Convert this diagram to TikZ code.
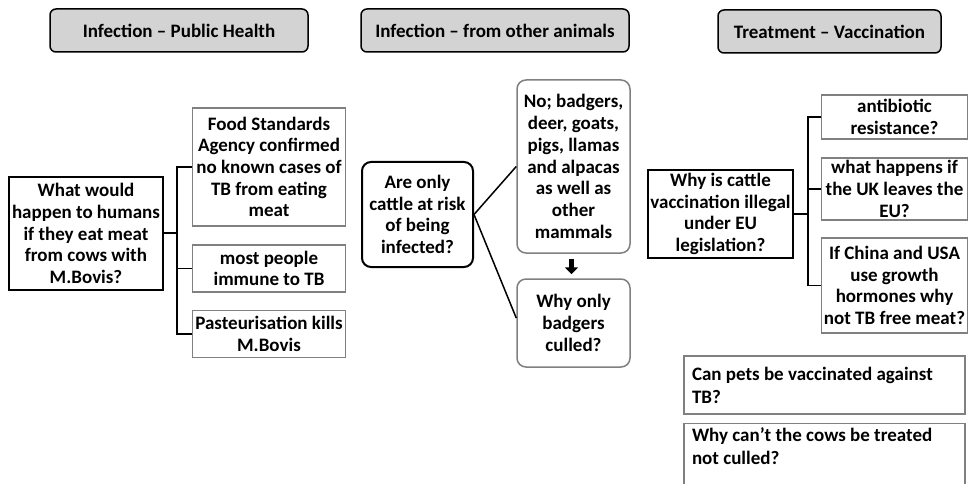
\documentclass[tikz,border=0pt]{standalone}
\usepackage{fontspec}
\setmainfont{Carlito}
\usepackage{tikz}
\usetikzlibrary{arrows.meta,calc}
\definecolor{hdrgray}{HTML}{D3D3D3}
\definecolor{boxgray}{HTML}{808080}
\begin{document}
\begin{tikzpicture}[x=1pt,y=-1pt,
  every node/.style={font=\bfseries\fontsize{19}{21.7}\selectfont,inner sep=0pt,align=center},
  hdr/.style={draw=black,line width=1.5pt,fill=hdrgray,rounded corners=6pt},
  qsharp/.style={draw=black,line width=2pt},
  qround/.style={draw=black,line width=2pt,rounded corners=9pt},
  ans/.style={draw=boxgray,line width=1.5pt},
  ansround/.style={draw=boxgray,line width=1.5pt,rounded corners=9pt},
  note/.style={draw=boxgray,line width=1.2pt,align=left,inner xsep=8pt,
    font=\bfseries\fontsize{19}{23}\selectfont},
  link/.style={draw=black,line width=1.5pt}]
\useasboundingbox (0,0) rectangle (970,484);
\clip (0,0) rectangle (970,484);
\fill[white] (0,0) rectangle (970,484);

\node[hdr,minimum width=258pt,minimum height=43pt] (h1) at (179,30.5) {Infection -- Public Health};
\node[hdr,minimum width=268pt,minimum height=43pt] (h2) at (495,30.5) {Infection -- from other animals};
\node[hdr,minimum width=223pt,minimum height=43pt] (h3) at (829.5,31.5) {Treatment -- Vaccination};

\node[qsharp,minimum width=154pt,minimum height=113pt] (q1) at (86,233.5)
  {What would\\happen to humans\\if they eat meat\\from cows with\\M.Bovis?};
\node[ans,minimum width=153pt,minimum height=118pt] (a1) at (269,167)
  {Food Standards\\Agency confirmed\\no known cases of\\TB from eating\\meat};
\node[ans,minimum width=153pt,minimum height=47pt] (a2) at (269,268.5)
  {most people\\immune to TB};
\node[ans,minimum width=153pt,minimum height=47pt] (a3) at (269,334)
  {Pasteurisation kills\\M.Bovis};
\coordinate (j1) at (177,233);
\draw[link] (q1.east |- j1) -- (j1);
\draw[link] (j1) |- (a1.west);
\draw[link] (j1) |- (a2.west);
\draw[link] (j1) |- (a3.west);

\node[qround,minimum width=111pt,minimum height=105pt] (q2) at (417.5,214.5)
  {Are only\\cattle at risk\\of being\\infected?};
\node[ansround,minimum width=113pt,minimum height=173pt] (b1) at (573.5,166.5)
  {No; badgers,\\deer, goats,\\pigs, llamas\\and alpacas\\as well as\\other\\mammals};
\node[ansround,minimum width=113pt,minimum height=88pt] (b2) at (573.5,323)
  {Why only\\badgers\\culled?};
\draw[link] (q2.east) -- (b1.west);
\draw[link] (q2.east) -- ($(b2.west)+(0,-5)$);
\draw[-{Triangle[length=7pt,width=13pt]},line width=4.5pt] ($(b1.south)+(-2,5)$) -- ($(b2.north)+(-2,-4)$);

\node[qsharp,minimum width=145pt,minimum height=88pt] (q3) at (720.5,214)
  {Why is cattle\\vaccination illegal\\under EU\\legislation?};
\node[ans,minimum width=146pt,minimum height=44pt] (c1) at (894.5,117)
  {antibiotic\\resistance?};
\node[ans,minimum width=146pt,minimum height=62pt] (c2) at (894.5,189)
  {what happens if\\the UK leaves the\\EU?};
\node[ans,minimum width=146pt,minimum height=95pt] (c3) at (894.5,285.5)
  {If China and USA\\use growth\\hormones why\\not TB free meat?};
\coordinate (j2) at (808,214);
\draw[link] (q3.east |- j2) -- (j2);
\draw[link] (j2) |- (c1.west);
\draw[link] (j2) |- (c2.west);
\draw[link] (j2) |- (c3.west);

\node[note,minimum width=281pt,minimum height=58pt] (d1) at (824.5,385)
  {\parbox[c]{265pt}{\raggedright Can pets be vaccinated against\\TB?}};
\node[note,minimum width=281pt,anchor=north,inner ysep=4pt] (d2) at (824.5,423)
  {\parbox[t][85pt][t]{265pt}{\raggedright Why can’t the cows be treated\\not culled?}};
\end{tikzpicture}
\end{document}
